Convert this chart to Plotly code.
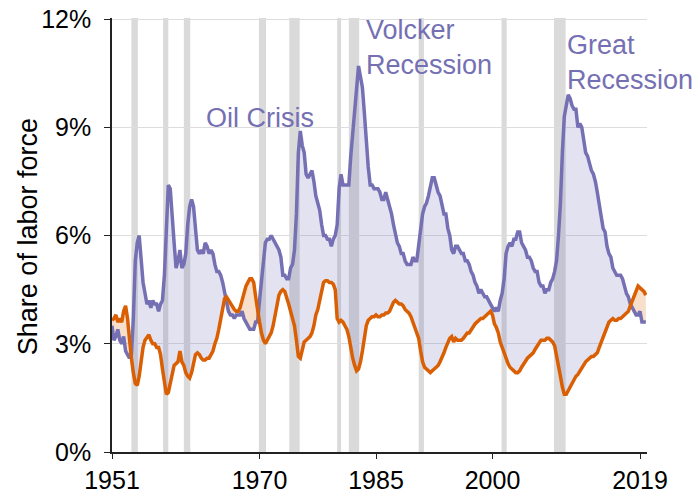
import numpy as np
import plotly.graph_objects as go

# quarterly values, 1951 Q1 .. 2019 Q4 (share of labor force, %)
start_year = 1951
unemployment = [
    3.5, 3.1, 3.2, 3.4,   3.1, 3.0, 3.2, 2.8,   2.7, 2.6, 2.7, 3.7,   5.3, 5.8, 6.0, 5.3,
    4.7, 4.4, 4.1, 4.2,   4.0, 4.2, 4.1, 4.1,   3.9, 4.1, 4.2, 4.9,   6.3, 7.4, 7.3, 6.4,
    5.8, 5.1, 5.3, 5.6,   5.1, 5.2, 5.5, 6.3,   6.8, 7.0, 6.8, 6.2,   5.6, 5.5, 5.6, 5.5,
    5.8, 5.7, 5.5, 5.6,   5.5, 5.2, 5.0, 5.0,   4.9, 4.7, 4.4, 4.1,   3.9, 3.8, 3.8, 3.7,
    3.8, 3.8, 3.8, 3.9,   3.7, 3.6, 3.5, 3.4,   3.4, 3.4, 3.6, 3.6,   4.2, 4.8, 5.2, 5.8,
    5.9, 5.9, 6.0, 5.9,   5.8, 5.7, 5.6, 5.4,   4.9, 4.9, 4.8, 4.8,   5.1, 5.2, 5.6, 6.6,
    8.3, 8.9, 8.5, 8.3,   7.7, 7.6, 7.7, 7.8,   7.5, 7.1, 6.9, 6.7,   6.3, 6.0, 6.0, 5.9,
    5.9, 5.7, 5.9, 6.0,   6.3, 7.3, 7.7, 7.4,   7.4, 7.4, 7.4, 8.2,   8.8, 9.4, 9.9, 10.7,
    10.4, 10.1, 9.4, 8.5, 7.9, 7.4, 7.4, 7.3,   7.3, 7.3, 7.2, 7.0,   7.0, 7.2, 7.0, 6.8,
    6.6, 6.3, 6.0, 5.8,   5.7, 5.5, 5.5, 5.3,   5.2, 5.2, 5.2, 5.4,   5.3, 5.3, 5.7, 6.1,
    6.6, 6.8, 6.9, 7.1,   7.4, 7.6, 7.6, 7.4,   7.2, 7.1, 6.8, 6.6,   6.6, 6.2, 6.0, 5.6,
    5.5, 5.7, 5.7, 5.6,   5.5, 5.5, 5.3, 5.3,   5.2, 5.0, 4.9, 4.7,   4.6, 4.4, 4.5, 4.4,
    4.3, 4.3, 4.2, 4.1,   4.0, 3.9, 4.0, 3.9,   4.2, 4.4, 4.8, 5.5,   5.7, 5.8, 5.7, 5.9,
    5.9, 6.1, 6.1, 5.8,   5.7, 5.6, 5.4, 5.4,   5.3, 5.1, 5.0, 5.0,   4.7, 4.6, 4.6, 4.4,
    4.5, 4.5, 4.7, 4.8,   5.0, 5.3, 6.0, 6.9,   8.3, 9.3, 9.6, 9.9,   9.8, 9.6, 9.5, 9.5,
    9.0, 9.1, 9.0, 8.6,   8.3, 8.2, 8.0, 7.8,   7.7, 7.5, 7.2, 6.9,   6.6, 6.2, 6.1, 5.7,
    5.5, 5.4, 5.1, 5.0,   4.9, 4.9, 4.9, 4.8,   4.6, 4.4, 4.3, 4.1,   4.0, 3.9, 3.8, 3.8,
    3.9, 3.6, 3.6, 3.6,
]
vacancies = [
    3.65, 3.7, 3.8, 3.6,  3.7, 3.6, 3.9, 4.05,  3.7, 3.1, 2.6, 2.2,   1.9, 1.85, 2.1, 2.5,
    2.9, 3.1, 3.2, 3.25,  3.1, 3.0, 3.0, 2.9,   2.9, 2.7, 2.3, 1.9,   1.6, 1.65, 1.9, 2.2,
    2.4, 2.45, 2.5, 2.8,  2.5, 2.4, 2.2, 2.1,   2.05, 2.2, 2.5, 2.7,  2.75, 2.7, 2.6, 2.55,
    2.55, 2.6, 2.6, 2.7,  2.8, 3.0, 3.15, 3.4,  3.7, 4.0, 4.25, 4.3,  4.2, 4.1, 4.0, 3.95,
    3.9, 3.9, 4.0, 4.2,   4.4, 4.6, 4.7, 4.8,   4.8, 4.7, 4.3, 3.9,   3.6, 3.3, 3.1, 3.0,
    3.1, 3.15, 3.3, 3.5,  3.8, 4.1, 4.35, 4.45, 4.5, 4.45, 4.3, 4.1,  3.9, 3.7, 3.5, 3.1,
    2.65, 2.6, 2.85, 3.05, 3.1, 3.15, 3.2, 3.3, 3.5, 3.8, 3.95, 4.2,  4.45, 4.7, 4.75, 4.75,
    4.7, 4.7, 4.65, 4.5,  3.7, 3.6, 3.65, 3.6,  3.5, 3.4, 3.2, 2.85,  2.6, 2.4, 2.25, 2.3,
    2.5, 2.8, 3.2, 3.5,   3.65, 3.7, 3.75, 3.75, 3.8, 3.75, 3.75, 3.8, 3.8, 3.85, 3.85, 3.9,
    4.05, 4.15, 4.2, 4.15, 4.1, 4.1, 4.05, 3.95, 3.9, 3.85, 3.75, 3.6, 3.45, 3.3, 3.15, 2.8,
    2.5, 2.35, 2.3, 2.25, 2.2, 2.25, 2.3, 2.35, 2.4, 2.5, 2.6, 2.75,  2.9, 3.05, 3.15, 3.2,
    3.05, 3.15, 3.1, 3.1, 3.1, 3.15, 3.25, 3.3, 3.3, 3.4, 3.5, 3.55,  3.6, 3.65, 3.7, 3.7,
    3.75, 3.8, 3.85, 3.9, 3.8, 3.55, 3.45, 3.3, 3.05, 2.9, 2.75, 2.55, 2.45, 2.35, 2.3, 2.25,
    2.2, 2.2, 2.25, 2.35, 2.45, 2.55, 2.6, 2.65, 2.7, 2.75, 2.85, 2.95, 3.05, 3.1, 3.1, 3.1,
    3.15, 3.15, 3.1, 3.05, 2.95, 2.7, 2.4, 2.1, 1.8, 1.6, 1.6, 1.7,   1.8, 1.95, 2.0, 2.1,
    2.15, 2.25, 2.35, 2.45, 2.5, 2.55, 2.6, 2.65, 2.65, 2.7, 2.75, 2.9, 3.05, 3.2, 3.35, 3.45,
    3.6, 3.65, 3.7, 3.65, 3.65, 3.7, 3.7, 3.75, 3.8, 3.85, 3.9, 4.05,  4.2, 4.3, 4.45, 4.6,
    4.55, 4.5, 4.45, 4.35,
]

# NBER recessions (decimal years)
recession_start = [1953.5, 1957.58, 1960.25, 1969.92, 1973.83, 1980.0, 1981.5, 1990.5, 2001.17, 2007.92]
recession_end = [1954.33, 1958.25, 1961.08, 1970.83, 1975.17, 1980.5, 1982.83, 1991.17, 2001.83, 2009.42]

tick_years = [1951, 1970, 1985, 2000, 2019]
y_ticks = [0, 3, 6, 9, 12]

label_text = ['Oil Crisis', 'Volcker<br>Recession', 'Great<br>Recession']
label_x = [1962.9, 1983.4, 2009.4]
label_y = [9.26, 11.2, 10.8]

purple = '#7570b3'
orange = '#d95f02'
font = 'Liberation Sans, Arial, Helvetica, sans-serif'

dates = [start_year + i / 4 for i in range(len(unemployment))]


def split_at_crossings(x, a, b):
    # add the crossing points so the two fills meet cleanly
    xs, ya, yb = [], [], []
    for i in range(len(x)):
        if i > 0:
            d0 = a[i - 1] - b[i - 1]
            d1 = a[i] - b[i]
            if d0 * d1 < 0:
                t = d0 / (d0 - d1)
                xc = x[i - 1] + t * (x[i] - x[i - 1])
                yc = a[i - 1] + t * (a[i] - a[i - 1])
                xs.append(xc)
                ya.append(yc)
                yb.append(yc)
        xs.append(x[i])
        ya.append(a[i])
        yb.append(b[i])
    return np.array(xs), np.array(ya), np.array(yb)


fx, fu, fv = split_at_crossings(dates, unemployment, vacancies)
low = np.minimum(fu, fv)

fig = go.Figure()

for top, colour in [(fu, 'rgba(117,112,179,0.2)'), (fv, 'rgba(217,95,2,0.2)')]:
    fig.add_trace(go.Scatter(x=fx, y=low, mode='lines', line=dict(width=0),
                             hoverinfo='skip', showlegend=False))
    fig.add_trace(go.Scatter(x=fx, y=top, mode='lines', line=dict(width=0),
                             fill='tonexty', fillcolor=colour,
                             hoverinfo='skip', showlegend=False))

fig.add_trace(go.Scatter(x=dates, y=unemployment, mode='lines',
                         line=dict(color=purple, width=3.5), name='Unemployment'))
fig.add_trace(go.Scatter(x=dates, y=vacancies, mode='lines',
                         line=dict(color=orange, width=3.5), name='Vacancies'))

for s, e in zip(recession_start, recession_end):
    fig.add_shape(type='rect', xref='x', yref='paper', x0=s, x1=e, y0=0, y1=1,
                  fillcolor='#dadada', line=dict(width=0), layer='below')

for txt, x, y in zip(label_text, label_x, label_y):
    fig.add_annotation(x=x, y=y, xref='x', yref='y', text=txt, showarrow=False,
                       xanchor='left', yanchor='middle', align='left',
                       font=dict(size=27, color=purple, family=font))

fig.add_annotation(x=-0.157, y=0.495, xref='paper', yref='paper',
                   text='Share of labor force', textangle=-90, showarrow=False,
                   xanchor='center', yanchor='middle',
                   font=dict(size=27, color='black', family=font))

# the page body adds 8px on the left and top
fig.update_layout(
    width=700,
    height=495,
    margin=dict(l=104, r=61, t=10, b=51),
    plot_bgcolor='white',
    paper_bgcolor='white',
    showlegend=False,
    font=dict(family=font, size=25, color='black'),
)

fig.update_xaxes(
    range=[1951, 2019.9],
    tickvals=tick_years,
    ticktext=[str(y) for y in tick_years],
    showgrid=False,
    zeroline=False,
    showline=True,
    linecolor='#222222',
    linewidth=1.5,
    ticks='outside',
    ticklen=5,
    tickcolor='#222222',
    automargin=False,
)

fig.update_yaxes(
    range=[0, 12.03],
    tickvals=y_ticks,
    ticktext=[f'{v}%' for v in y_ticks],
    showgrid=True,
    gridcolor='#dddddd',
    gridwidth=1,
    zeroline=False,
    showline=True,
    linecolor='#222222',
    linewidth=1.5,
    ticks='outside',
    ticklen=6,
    tickcolor='#222222',
    ticklabelstandoff=8,
    ticklabeloverflow='allow',
    automargin=False,
)

fig.write_html("out.html")
